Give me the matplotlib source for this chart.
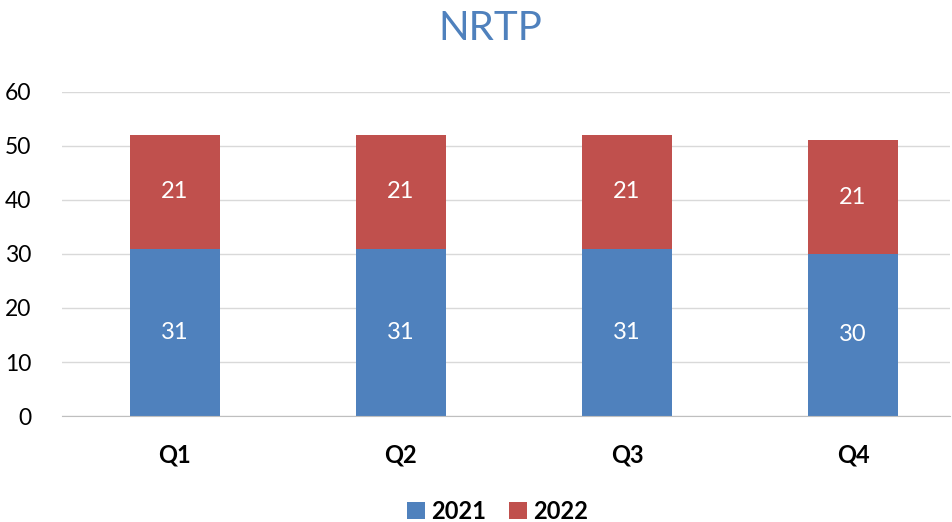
import matplotlib
matplotlib.use("Agg")
from matplotlib import pyplot as plt
import numpy as np

quarters = ["Q1", "Q2", "Q3", "Q4"]
vals_2021 = [31, 31, 31, 30]
vals_2022 = [21, 21, 21, 21]
series_names = ["2021", "2022"]
yticks = [0, 10, 20, 30, 40, 50, 60]

plt.rcParams['font.family'] = ['Lato', 'DejaVu Sans']

blue = '#4F81BD'
red = '#C0504D'

fig = plt.figure(figsize=(9.53, 5.22), dpi=100)
ax = fig.add_axes([0.065, 0.203, 0.932, 0.621])

x = np.arange(len(quarters))
b1 = ax.bar(x, vals_2021, width=0.4, color=blue, label=series_names[0], zorder=3)
b2 = ax.bar(x, vals_2022, width=0.4, bottom=vals_2021, color=red, label=series_names[1], zorder=3)

# value labels in the middle of each segment
for rects, vals in [(b1, vals_2021), (b2, vals_2022)]:
    for r, v in zip(rects, vals):
        ax.text(r.get_x() + r.get_width() / 2, r.get_y() + r.get_height() / 2, str(v),
                ha='center', va='center', color='white', fontsize=17, zorder=4)

ax.set_xlim(-0.5, 3.43)
ax.set_ylim(0, 60)
ax.set_yticks(yticks)
ax.set_xticks(x)
ax.set_xticklabels(quarters, fontweight='bold', fontsize=17)
ax.tick_params(axis='y', labelsize=16.5, length=0, pad=22)
ax.tick_params(axis='x', length=0, pad=20)
ax.grid(axis='y', color='#D9D9D9', linewidth=1, zorder=0)
for s in ['top', 'right', 'left']:
    ax.spines[s].set_visible(False)
ax.spines['bottom'].set_color('#BFBFBF')
ax.spines['bottom'].set_zorder(5)

fig.text(0.515, 0.945, "NRTP", ha='center', va='center', color=blue, fontsize=29)

fig.legend(handles=[b1, b2], labels=series_names, loc='center', bbox_to_anchor=(0.522, 0.02),
           ncol=2, frameon=False, prop={'weight': 'bold', 'size': 17},
           handlelength=0.75, handleheight=0.75, handletextpad=0.25, columnspacing=1.0)

fig.savefig("out.png", dpi=100)
